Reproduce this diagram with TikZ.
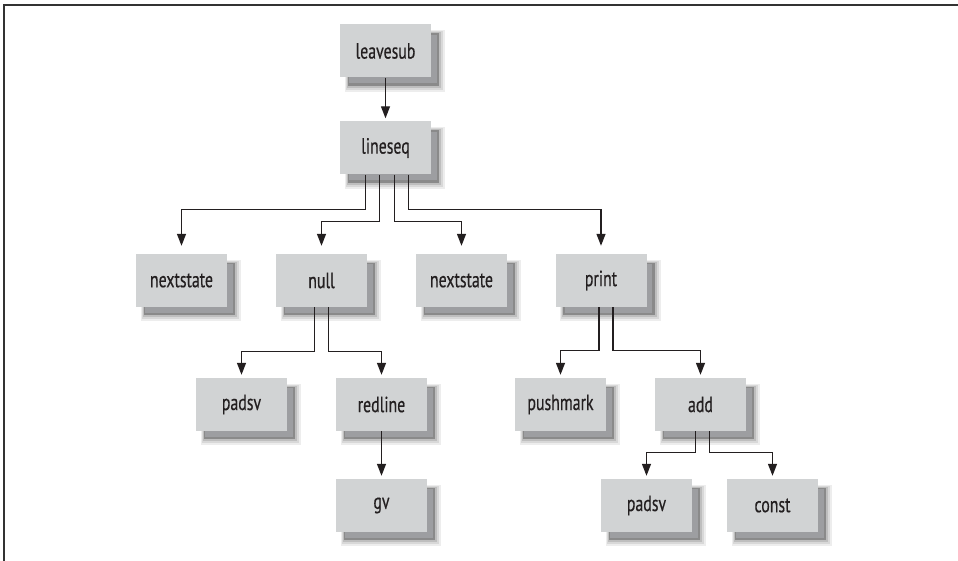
\documentclass[tikz,border=0pt]{standalone}
\usepackage{fontspec}
\setmainfont{PT Sans}[FakeStretch=0.72, FakeBold=0.4]
\usetikzlibrary{arrows.meta,backgrounds,calc}
\definecolor{boxfill}{HTML}{D1D3D4}
\definecolor{ink}{HTML}{231F20}
\definecolor{shA}{HTML}{EDEDED}
\definecolor{shB}{HTML}{D8D8D8}
\definecolor{shC}{HTML}{BEBEBE}
\definecolor{shD}{HTML}{8A8A8A}
\definecolor{shE}{HTML}{9D9EA1}
\definecolor{frame}{HTML}{333333}
\tikzset{
  opbox/.style={fill=boxfill, minimum width=91pt, minimum height=53pt,
    inner sep=0pt, text=ink, font=\fontsize{22}{24}\selectfont},
  link/.style={draw=ink, line width=1.3pt,
    -{Triangle[length=12pt,width=9pt]}, shorten >=3pt},
  fan/.style={link, shorten >=8pt},
}
\begin{document}
\begin{tikzpicture}[x=1pt,y=-1pt]
\useasboundingbox (0,0) rectangle (958,561);

% page frame (top and left rules)
\draw[frame, line width=1.8pt] (958,5) -- (4,5) -- (4,561);

% operator nodes
\node[opbox] (leavesub)   at (385.5, 51)    {leavesub};
\node[opbox] (lineseq)    at (385.5, 148)   {lineseq};
\node[opbox] (nextstateA) at (181.5, 280.5) {nextstate};
\node[opbox] (null)       at (321.5, 280.5) {null};
\node[opbox] (nextstateB) at (461.5, 280.5) {nextstate};
\node[opbox] (print)      at (601,   280.5) {print};
\node[opbox] (padsvA)     at (241.5, 404.5) {padsv};
\node[opbox] (redline)    at (381.5, 404.5) {redline};
\node[opbox] (pushmark)   at (560.5, 404.5) {pushmark};
\node[opbox] (add)        at (700.5, 404.5) {add};
\node[opbox] (gv)         at (381.5, 505.5) {gv};
\node[opbox] (padsvB)     at (646.5, 505.5) {padsv};
\node[opbox] (const)      at (772.5, 505.5) {const};

% soft drop shadows behind every node
\begin{scope}[on background layer]
\foreach \n in {leavesub,lineseq,nextstateA,null,nextstateB,print,
                padsvA,redline,pushmark,add,gv,padsvB,const}{
  \fill[shA] ($(\n.north west)+(5,6)$)  rectangle ($(\n.south east)+(14,14)$);
  \fill[shB] ($(\n.north west)+(6,7)$)  rectangle ($(\n.south east)+(12,12)$);
  \fill[shC] ($(\n.north west)+(7,8)$)  rectangle ($(\n.south east)+(10,10)$);
  \fill[shD] ($(\n.north west)+(8,9)$)  rectangle ($(\n.south east)+(8,8)$);
  \fill[shE] ($(\n.north west)+(9.5,10.5)$) rectangle ($(\n.south east)+(5.5,5.5)$);
}
\end{scope}

% connectors
\draw[link] (leavesub) -- (lineseq);

\draw[fan] ([xshift=-20pt]lineseq.south) -- ++(0,35) -| (nextstateA.north);
\draw[fan] ([xshift=-6pt]lineseq.south)  -- ++(0,47) -| (null.north);
\draw[fan] ([xshift=9pt]lineseq.south)   -- ++(0,47) -| (nextstateB.north);
\draw[fan] ([xshift=23pt]lineseq.south)  -- ++(0,35) -| (print.north);

\draw[link] ([xshift=-7pt]null.south) -- ++(0,44) -| (padsvA.north);
\draw[link] ([xshift=7pt]null.south)  -- ++(0,44) -| (redline.north);

\draw[link] (redline) -- (gv);

\draw[link] ([xshift=-2pt]print.south)  -- ++(0,43) -| (pushmark.north);
\draw[link] ([xshift=12pt]print.south)  -- ++(0,43) -| (add.north);

\draw[link] ([xshift=-5pt]add.south) -- ++(0,21) -| (padsvB.north);
\draw[link] ([xshift=9pt]add.south)  -- ++(0,21) -| (const.north);
\end{tikzpicture}
\end{document}
